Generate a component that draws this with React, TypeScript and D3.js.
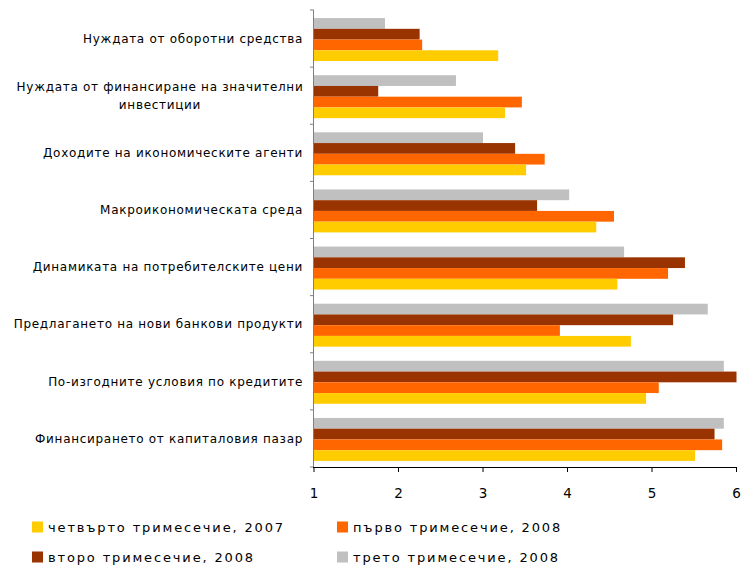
import React from "react";
import * as d3 from "d3";

const categories: string[][] = [
  ["Нуждата от оборотни средства"],
  ["Нуждата от финансиране на значителни", "инвестиции"],
  ["Доходите на икономическите агенти"],
  ["Макроикономическата среда"],
  ["Динамиката на потребителските цени"],
  ["Предлагането на нови банкови продукти"],
  ["По-изгодните условия по кредитите"],
  ["Финансирането от капиталовия пазар"],
];

const seriesNames = [
  "трето тримесечие, 2008",
  "второ тримесечие, 2008",
  "първо тримесечие, 2008",
  "четвърто тримесечие, 2007",
];
const seriesColors = ["#C0C0C0", "#993300", "#FF6600", "#FFCC00"];

const q3_2008 = [1.84, 2.68, 3.0, 4.02, 4.67, 5.66, 5.85, 5.85];
const q2_2008 = [2.25, 1.76, 3.38, 3.64, 5.39, 5.25, 6.0, 5.74];
const q1_2008 = [2.28, 3.46, 3.73, 4.55, 5.19, 3.91, 5.08, 5.83];
const q4_2007 = [3.18, 3.26, 3.51, 4.34, 4.59, 4.75, 4.93, 5.51];
const seriesValues = [q3_2008, q2_2008, q1_2008, q4_2007];

const xTicks = [1, 2, 3, 4, 5, 6];

const legendOrder = [
  { name: "четвърто тримесечие, 2007", color: "#FFCC00" },
  { name: "първо тримесечие, 2008", color: "#FF6600" },
  { name: "второ тримесечие, 2008", color: "#993300" },
  { name: "трето тримесечие, 2008", color: "#C0C0C0" },
];

export default function App() {
  const W = 754, H = 566;
  const left = 314, right = 736.5, top = 10, bottom = 467;
  const x = d3.scaleLinear().domain([1, 6]).range([left, right]);
  const y = d3.scaleBand<number>().domain(d3.range(categories.length)).range([top, bottom]);
  const inner = d3
    .scaleBand<number>()
    .domain(d3.range(4))
    .range([0, y.bandwidth()])
    .paddingOuter(0.66)
    .paddingInner(0)
    .align(0.57);
  const font = "DejaVu Sans, Verdana, sans-serif";
  return (
    <svg width={W} height={H} style={{ position: "absolute", left: 0, top: 0 }} fontFamily={font}>
      <rect width={W} height={H} fill="#fff" />
      {categories.map((_, ci) =>
        seriesValues.map((vals, si) => (
          <rect
            key={ci + "-" + si}
            x={x(1)}
            y={(y(ci) as number) + (inner(si) as number)}
            width={x(vals[ci]) - x(1)}
            height={inner.bandwidth()}
            fill={seriesColors[si]}
          />
        ))
      )}
      {/* left axis */}
      <line x1={left - 0.5} x2={left - 0.5} y1={top} y2={bottom} stroke="#808080" strokeWidth={1} />
      {d3.range(categories.length + 1).map((i) => {
        const yy = top + (i * (bottom - top)) / categories.length;
        return <line key={"lt" + i} x1={left - 4} x2={left} y1={yy} y2={yy} stroke="#808080" />;
      })}
      {/* bottom axis */}
      <line x1={left - 1} x2={right} y1={bottom + 0.5} y2={bottom + 0.5} stroke="#000" />
      {xTicks.map((t) => (
        <g key={"xt" + t}>
          <line x1={x(t)} x2={x(t)} y1={bottom} y2={bottom + 5} stroke="#000" />
          <text x={x(t)} y={498} textAnchor="middle" fontSize={13.5} fill="#000">{t}</text>
        </g>
      ))}
      {/* category labels */}
      {categories.map((lines, ci) => {
        const cy = (y(ci) as number) + y.bandwidth() / 2;
        const lh = 17.5;
        const startY = cy - ((lines.length - 1) * lh) / 2;
        return (
          <g key={"cl" + ci}>
            {lines.length === 1 ? (
              <text x={303} y={cy} dy="0.35em" textAnchor="end" fontSize={12} letterSpacing={0.7} fill="#000">{lines[0]}</text>
            ) : (
              lines.map((ln, li) => (
                <text key={li} x={160} y={startY + li * lh} dy="0.35em" textAnchor="middle" fontSize={12} letterSpacing={0.7} fill="#000">{ln}</text>
              ))
            )}
          </g>
        );
      })}
      {/* legend */}
      {legendOrder.map((l, i) => {
        const col = i % 2, row = Math.floor(i / 2);
        const lx = col === 0 ? 32 : 337;
        const ly = row === 0 ? 527 : 557;
        return (
          <g key={"lg" + i}>
            <rect x={lx} y={ly - 5.5} width={11} height={11} fill={l.color} />
            <text x={lx + 16} y={ly} dy="0.35em" fontSize={13} letterSpacing={1.85} fill="#000">{l.name}</text>
          </g>
        );
      })}
    </svg>
  );
}
